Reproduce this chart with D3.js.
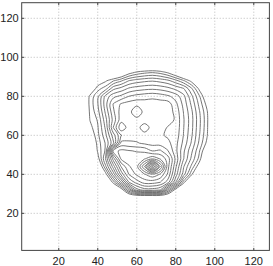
<!DOCTYPE html>
<html>
<head>
<meta charset="utf-8">
<script src="https://cdn.jsdelivr.net/npm/d3@7"></script>
<style>
body { margin: 0; background: #fff; }
text { font-family: "Liberation Sans", Arial, sans-serif; font-size: 11px; fill: #222; }
</style>
</head>
<body>
<div id="plot"></div>
<script>
var xTicks = [20, 40, 60, 80, 100, 120];
var yTicks = [20, 40, 60, 80, 100, 120];

// sample positions of the matrix (data units), rows listed from top to bottom
var gridX = [32, 36, 40, 44, 48, 52, 56, 60, 64, 68, 72, 76, 80, 84, 88, 92, 96, 100];
var gridY = [96, 92, 88, 84, 80, 76, 72, 68, 64, 60, 56, 52, 48, 44, 40, 36, 32, 28];

var levels = [1, 2, 3, 4, 5, 6, 7, 8, 9, 10, 11, 12, 13, 14, 15, 16, 17, 18, 19, 20, 21];

// estimated heights
var heights = [
  [-2, -2, -2, -2, -2, -2, -2, -2, -2, -2, -2, -2, -2, -2, -2, -2, -2, -2],
  [-2, -2, -2, -2, -2, -1, 0.6, 1.45, 1.9, 2.15, 1.8, 1.02, -0.3, -2, -2, -2, -2, -2],
  [-2, -2, -0.1, 0.8, 1.9, 2.85, 4.02, 4.5, 4.75, 4.9, 4.65, 4.25, 3.35, 2.15, 0.6, -2, -2, -2],
  [-2, -0.6, 1.6, 2.5, 4.7, 5.35, 6.15, 6.5, 6.7, 6.8, 6.65, 6.3, 5.7, 5.05, 3.2, 0.7, -2, -2],
  [-1.8, 1.3, 2.75, 5.35, 6.7, 7.25, 8.02, 8.4, 8.6, 8.75, 8.55, 8.2, 7.55, 6.3, 4.3, 2.2, -0.4, -2],
  [-1.5, 1.38, 2.94, 5.6, 8.1, 9.14, 9.5, 9.7, 9.5, 9.5, 9.5, 9.5, 8.3, 6.67, 4.84, 2.74, 0.6, -2],
  [-2, 1.25, 2.6, 5.2, 7.8, 9.5, 9.6, 10.9, 9.6, 9.5, 9.5, 9.5, 8.7, 6.95, 5.25, 3.15, 1.18, -2],
  [-1.8, 1.05, 2.12, 4.65, 7.4, 9.6, 9.5, 9.6, 9.3, 9.5, 9.5, 9.5, 8.85, 7.1, 5.4, 3.3, 1.32, -2],
  [-2, 0.6, 1.9, 4.2, 8.05, 10.8, 9.5, 9.5, 10.7, 9.5, 9.5, 8.9, 8.8, 7.05, 5.35, 3.25, 1.27, -2],
  [-2, -0.1, 1.72, 3.75, 6.55, 8.95, 9.5, 9.5, 9.5, 9.5, 9.2, 8.8, 8.65, 6.95, 5.2, 3.1, 1.14, -2],
  [-2, -1.2, 1.45, 3.1, 5.8, 10.3, 10.2, 10.1, 9.8, 9.6, 9.5, 9.3, 8.35, 6.7, 4.9, 2.8, 0.7, -2],
  [-2, -1.7, 1.17, 3.2, 11.5, 12.3, 12.1, 11.9, 11.8, 11, 11.2, 10.05, 8.3, 6.2, 4.26, 2.16, -0.5, -2],
  [-2, -2, 0.4, 4.05, 8.5, 12.2, 12.5, 12.7, 12.9, 13.8, 12.9, 11.5, 8.7, 6.05, 3.8, 1.7, -2, -2],
  [-2, -2, -1.2, 2.8, 6.5, 10.05, 11.9, 12.6, 16.05, 21.5, 16.05, 11.3, 8.2, 5.1, 2.8, 0.2, -2, -2],
  [-2, -2, -2, 0.5, 4.5, 8.3, 11.05, 12.2, 12.9, 13.8, 12.9, 10.8, 7.5, 4.5, 1.3, -2, -2, -2],
  [-2, -2, -2, -2, 1.5, 5.05, 9.05, 10.5, 11.5, 11.5, 11.05, 9.5, 6.05, 1.5, -2, -2, -2, -2],
  [-2, -2, -2, -2, -2, 0, 4.05, 7.5, 8.5, 8.5, 8.05, 4.05, 0.2, -2, -2, -2, -2, -2],
  [-2, -2, -2, -2, -2, -2, -2, -2, -2, -2, -2, -2, -2, -2, -2, -2, -2, -2]
];

var margin = { left: 21.7, right: 3.6, top: 2.7, bottom: 15.6 };
var w = 273 - margin.left - margin.right;
var h = 266 - margin.top - margin.bottom;

var x = d3.scaleLinear().domain([1, 128]).range([0, w]);
var y = d3.scaleLinear().domain([1, 128]).range([h, 0]);

var svg = d3.select("#plot")
  .append("svg")
  .attr("width", 273)
  .attr("height", 266)
  .append("g")
  .attr("transform", "translate(" + margin.left + "," + margin.top + ")");

svg.append("defs").append("clipPath").attr("id", "box")
  .append("rect").attr("width", w).attr("height", h);

// dotted grid
svg.selectAll(".gx").data(xTicks).enter().append("line")
  .attr("x1", function(d) { return x(d); })
  .attr("x2", function(d) { return x(d); })
  .attr("y1", 0).attr("y2", h)
  .attr("stroke", "#aaa").attr("stroke-width", 0.8)
  .attr("stroke-dasharray", "1,2");

svg.selectAll(".gy").data(yTicks).enter().append("line")
  .attr("y1", function(d) { return y(d); })
  .attr("y2", function(d) { return y(d); })
  .attr("x1", 0).attr("x2", w)
  .attr("stroke", "#aaa").attr("stroke-width", 0.8)
  .attr("stroke-dasharray", "1,2");

// contours
var values = [].concat.apply([], heights);
var step = gridX[1] - gridX[0];
var contours = d3.contours()
  .size([gridX.length, gridY.length])
  .thresholds(levels)(values);

// grid index -> data units
function toData(p) {
  return [gridX[0] + (p[0] - 0.5) * step, gridY[0] - (p[1] - 0.5) * step];
}

var ringLine = d3.line()
  .x(function(p) { return x(p[0]); })
  .y(function(p) { return y(p[1]); })
  .curve(d3.curveCatmullRomClosed.alpha(0.5));

var rings = [];
contours.forEach(function(c) {
  c.coordinates.forEach(function(poly) {
    poly.forEach(function(ring) {
      rings.push(ring.slice(0, ring.length - 1).map(toData));
    });
  });
});

svg.append("g").attr("clip-path", "url(#box)")
  .selectAll("path").data(rings).enter().append("path")
  .attr("d", ringLine)
  .attr("fill", "none")
  .attr("stroke", "#666")
  .attr("stroke-width", 0.9);

// box and ticks
svg.append("rect")
  .attr("width", w).attr("height", h)
  .attr("fill", "none").attr("stroke", "#444").attr("stroke-width", 1);

var tl = 2.5;
xTicks.forEach(function(d) {
  svg.append("line").attr("x1", x(d)).attr("x2", x(d)).attr("y1", h).attr("y2", h - tl).attr("stroke", "#444");
  svg.append("line").attr("x1", x(d)).attr("x2", x(d)).attr("y1", 0).attr("y2", tl).attr("stroke", "#444");
});
yTicks.forEach(function(d) {
  svg.append("line").attr("y1", y(d)).attr("y2", y(d)).attr("x1", 0).attr("x2", tl).attr("stroke", "#444");
  svg.append("line").attr("y1", y(d)).attr("y2", y(d)).attr("x1", w).attr("x2", w - tl).attr("stroke", "#444");
});

svg.selectAll(".xl").data(xTicks).enter().append("text")
  .attr("x", function(d) { return x(d); })
  .attr("y", h + 14.5)
  .style("text-anchor", "middle")
  .text(function(d) { return d; });

svg.selectAll(".yl").data(yTicks).enter().append("text")
  .attr("x", -3)
  .attr("y", function(d) { return y(d); })
  .attr("dy", "0.36em")
  .style("text-anchor", "end")
  .text(function(d) { return d; });
</script>
</body>
</html>
